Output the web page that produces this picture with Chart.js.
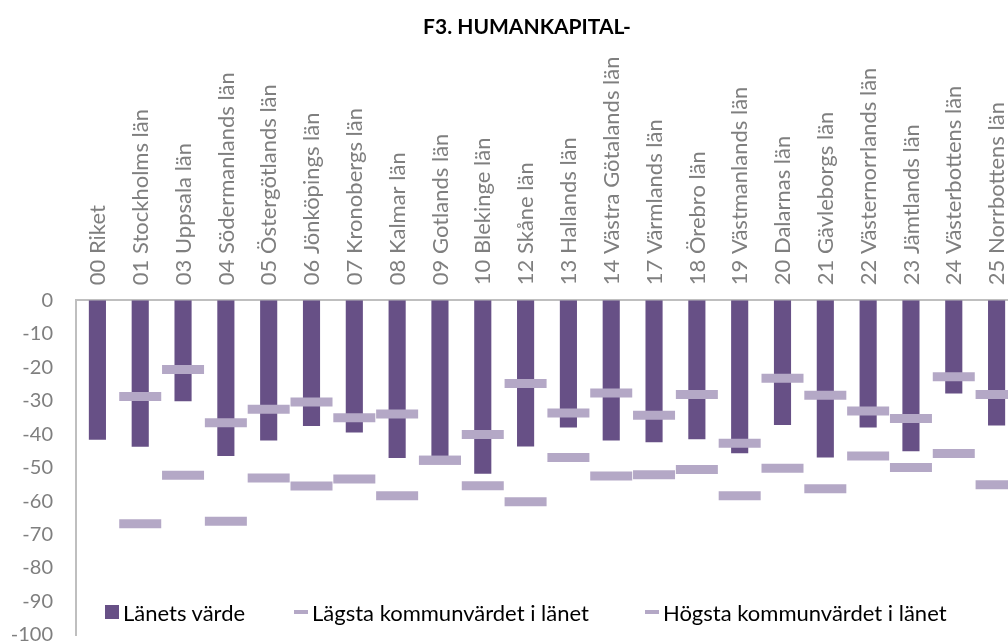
<!DOCTYPE html>
<html>
<head>
<meta charset="utf-8">
<script src="https://cdn.jsdelivr.net/npm/chart.js@4"></script>
<style>
  html, body { margin: 0; padding: 0; overflow: hidden; background: #fff; }
  #wrap { position: relative; width: 1018px; height: 643px; }
  #legend { position: absolute; left: 0; top: 0; font-family: Lato, sans-serif; font-size: 22px; color: #000; }
  .item { position: absolute; top: 599px; white-space: nowrap; display: flex; align-items: center; height: 26px; }
  .box { width: 14px; height: 14px; margin-right: 4px; }
  .dash { width: 14px; height: 4px; margin-right: 4px; }
</style>
</head>
<body>
<div id="wrap">
  <canvas id="chart" width="1018" height="643"></canvas>
  <div id="legend"></div>
</div>
<script>
// categories
const lan = ["00 Riket","01 Stockholms län","03 Uppsala län","04 Södermanlands län","05 Östergötlands län",
  "06 Jönköpings län","07 Kronobergs län","08 Kalmar län","09 Gotlands län","10 Blekinge län","12 Skåne län",
  "13 Hallands län","14 Västra Götalands län","17 Värmlands län","18 Örebro län","19 Västmanlands län",
  "20 Dalarnas län","21 Gävleborgs län","22 Västernorrlands län","23 Jämtlands län","24 Västerbottens län",
  "25 Norrbottens län"];

// series
const lanetsVarde = [-41.7,-43.8,-30.2,-46.5,-41.9,-37.6,-39.5,-47.1,-47.8,-51.8,-43.7,
  -38.0,-41.9,-42.4,-41.5,-45.7,-37.3,-47.0,-38.0,-45.1,-27.9,-37.4];
const lagstaKommun = [null,-66.8,-52.3,-66.0,-53.1,-55.5,-53.4,-58.4,-47.8,-55.4,-60.2,
  -47.0,-52.5,-52.1,-50.6,-58.4,-50.2,-56.3,-46.5,-50.0,-45.8,-55.1];
const hogstaKommun = [null,-28.8,-20.7,-36.6,-32.6,-30.4,-35.1,-34.0,-47.8,-40.1,-24.9,
  -33.7,-27.7,-34.4,-28.2,-42.7,-23.3,-28.4,-33.1,-35.3,-22.9,-28.2];

const seriesNames = ["Länets värde","Lägsta kommunvärdet i länet","Högsta kommunvärdet i länet"];
const yTicks = [0,-10,-20,-30,-40,-50,-60,-70,-80,-90,-100];

const PURPLE = "#675086";
const LILAC = "#b4a8c6";
const GREY = "#7f7f7f";

// min / max markers: short thick horizontal dashes
function markerSet(label, data){
  return {
    type: "line",
    label: label,
    data: data,
    showLine: false,
    pointStyle: "line",
    pointRadius: 21,
    pointBorderWidth: 9,
    pointBorderColor: LILAC,
    pointBackgroundColor: LILAC,
    order: 1
  };
}

// title box is centred between x=36 and the right edge
const titleShift = {
  id: "titleShift",
  afterLayout(chart){
    const t = chart.titleBlock;
    if(t){ t.left = 36; t.width = t.right - t.left; }
  }
};

new Chart(document.getElementById("chart"), {
  type: "bar",
  data: {
    labels: lan,
    datasets: [
      {
        label: seriesNames[0],
        data: lanetsVarde,
        backgroundColor: PURPLE,
        barPercentage: 0.4,
        categoryPercentage: 1,
        order: 2
      },
      markerSet(seriesNames[1], lagstaKommun),
      markerSet(seriesNames[2], hogstaKommun)
    ]
  },
  plugins: [titleShift],
  options: {
    responsive: false,
    animation: false,
    layout: { autoPadding: false, padding: { left: 0, right: 0, top: 0, bottom: 8 } },
    plugins: {
      legend: { display: false },
      tooltip: { enabled: false },
      title: {
        display: true,
        text: "F3. HUMANKAPITAL-",
        color: "#000",
        font: { family: "Lato", size: 21, weight: "bold", lineHeight: 1.2 },
        padding: { top: 15, bottom: 15 }
      }
    },
    scales: {
      x: {
        position: "top",
        grid: { display: false, drawTicks: false },
        border: { display: true, color: "#bfbfbf", width: 2 },
        ticks: {
          autoSkip: false,
          minRotation: 90,
          maxRotation: 90,
          padding: 15,
          labelOffset: 27,
          color: GREY,
          font: { family: "Lato", size: 22 }
        },
        afterFit: s => { s.height = 245; }
      },
      y: {
        min: -100,
        max: 0,
        grid: { display: false, drawTicks: false },
        border: { display: true, color: "#bfbfbf", width: 2 },
        afterBuildTicks: s => { s.ticks = yTicks.map(v => ({ value: v })); },
        ticks: {
          padding: 23,
          color: GREY,
          font: { family: "Lato", size: 20 }
        },
        // fixed axis width; tick padding should not push the plot bottom up
        afterFit: s => { s.width = 76; s.paddingTop = 0; s.paddingBottom = 0; }
      }
    }
  }
});

// legend inside the plot, bottom left
const legendPos = [105, 294, 645];
const legendEl = document.getElementById("legend");
seriesNames.forEach((name, i) => {
  const item = document.createElement("div");
  item.className = "item";
  item.style.left = legendPos[i] + "px";
  const sw = document.createElement("span");
  sw.className = i === 0 ? "box" : "dash";
  sw.style.background = i === 0 ? PURPLE : LILAC;
  item.appendChild(sw);
  item.appendChild(document.createTextNode(name));
  legendEl.appendChild(item);
});
</script>
</body>
</html>
